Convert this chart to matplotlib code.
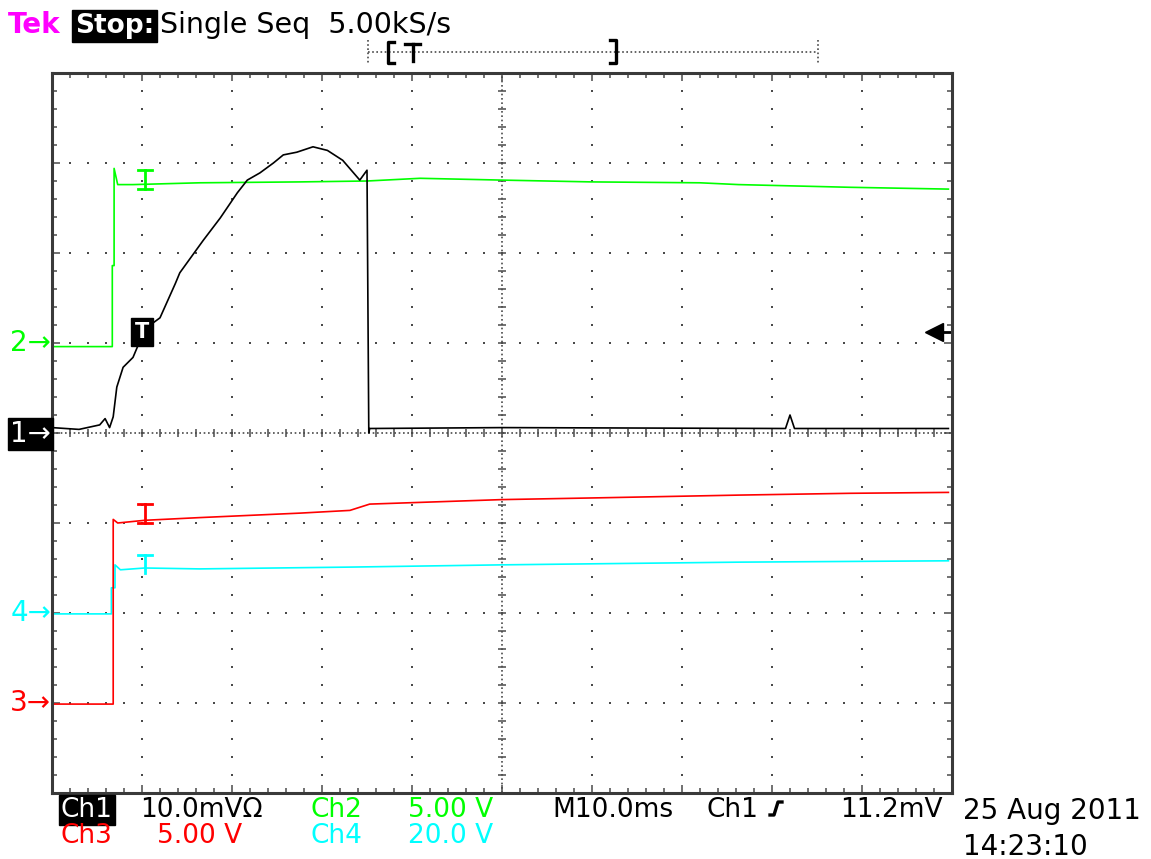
import matplotlib
matplotlib.use("Agg")
import matplotlib.pyplot as plt
from matplotlib.lines import Line2D
import numpy as np

W, H = 1151, 859

# scope settings: units per division and ground marker position (divisions)
ch1_scale, ch1_pos = 10.0, 0.0    # mV/div
ch2_scale, ch2_pos = 5.0, 1.0     # V/div
ch3_scale, ch3_pos = 5.0, -3.0    # V/div
ch4_scale, ch4_pos = 20.0, -2.0   # V/div
time_div = 10.0                   # ms/div
trig_level = 11.2                 # mV on ch1
trig_time = 10.0                  # ms

# ch1 (black, mV)
ch1_t = [0, 3.0, 5.3, 5.9, 6.4, 6.8, 7.2, 7.9, 9.0, 9.8, 10.1, 12.0, 13.7, 14.2,
         16.8, 18.7, 20.6, 21.7, 23.1, 24.6, 25.7, 27.2, 29.0, 30.6, 32.3, 34.2,
         35.0, 35.2, 35.3, 50.0, 81.5, 82.0, 82.5, 99.6]
ch1_v = [0.6, 0.4, 0.9, 1.6, 0.6, 1.8, 5.1, 7.3, 8.4, 10.3, 11.4, 12.8, 16.6, 17.8,
         21.4, 23.9, 26.7, 28.1, 28.9, 30.0, 30.9, 31.2, 31.8, 31.4, 30.3, 28.1,
         29.2, 0.0, 0.5, 0.6, 0.5, 2.0, 0.5, 0.5]

# ch2 (green, V)
ch2_t = [0, 6.7, 6.7, 6.9, 6.9, 7.3, 9.0, 16.4, 27.6, 35.0, 40.9, 50.0, 59.9, 72.0,
         76.3, 88.7, 99.6]
ch2_v = [-0.2, -0.2, 4.3, 4.3, 9.7, 8.8, 8.8, 8.9, 8.95, 9.0, 9.15, 9.05, 8.95, 8.9,
         8.8, 8.65, 8.55]

# ch3 (red, V)
ch3_t = [0, 6.8, 6.8, 7.3, 10.3, 16.4, 27.6, 33.1, 35.3, 50.0, 60.9, 76.3, 88.7, 99.6]
ch3_v = [-0.06, -0.06, 10.2, 10.0, 10.15, 10.3, 10.55, 10.7, 11.05, 11.3, 11.4,
         11.55, 11.65, 11.7]

# ch4 (cyan, V)
ch4_t = [0, 6.6, 6.6, 7.0, 7.0, 7.6, 10.3, 16.4, 33.1, 50.0, 76.3, 99.6]
ch4_v = [-0.2, -0.2, 5.6, 5.6, 10.7, 9.6, 10.0, 9.8, 10.2, 10.7, 11.3, 11.6]

green = "#00ff00"
red = "#ff0000"
cyan = "#00ffff"
magenta = "#ff00ff"
grid_c = "#4a4a4a"

fig = plt.figure(figsize=(W / 100, H / 100), dpi=100)
fig.patch.set_facecolor("white")
ax = fig.add_axes([52 / W, (H - 793) / H, 900 / W, 720 / H])
ax.set_xlim(0, 10 * time_div)
ax.set_ylim(-4, 4)

# graticule
minor_x = np.arange(0, 100.01, time_div / 5)
minor_y = np.arange(-4, 4.01, 0.2)
for gx in np.arange(time_div, 100, time_div):
    if gx == 50:
        continue
    ax.plot(np.full(minor_y.size, gx), minor_y, ls="none", marker="s", ms=1.6,
            color=grid_c, mew=0)
for gy in range(-3, 4):
    if gy == 0:
        continue
    ax.plot(minor_x, np.full(minor_x.size, gy), ls="none", marker="s", ms=1.6,
            color=grid_c, mew=0)
ax.plot([50, 50], [-4, 4], ls=(0, (1, 1.6)), lw=1.2, color=grid_c)
ax.plot([0, 100], [0, 0], ls=(0, (1, 1.6)), lw=1.2, color=grid_c)
ax.plot(np.full(minor_y.size, 50), minor_y, ls="none", marker="_", ms=6, mew=1.1, color=grid_c)
ax.plot(minor_x, np.zeros(minor_x.size), ls="none", marker="|", ms=6, mew=1.1, color=grid_c)

ax.set_xticks(np.arange(0, 100.01, time_div))
ax.set_xticks(minor_x, minor=True)
ax.set_yticks(np.arange(-4, 4.01, 1))
ax.set_yticks(minor_y, minor=True)
ax.tick_params(which="both", direction="in", top=True, right=True, bottom=True, left=True,
               labelbottom=False, labelleft=False, color=grid_c, width=1.1)
ax.tick_params(which="major", length=6)
ax.tick_params(which="minor", length=3.5)
for sp in ax.spines.values():
    sp.set_color("#3a3a3a")
    sp.set_linewidth(2.2)

# traces
lw = 1.2
ax.plot(ch4_t, ch4_pos + np.array(ch4_v) / ch4_scale, color=cyan, lw=lw)
ax.plot(ch3_t, ch3_pos + np.array(ch3_v) / ch3_scale, color=red, lw=lw)
ax.plot(ch2_t, ch2_pos + np.array(ch2_v) / ch2_scale, color=green, lw=lw)
ax.plot(ch1_t, ch1_pos + np.array(ch1_v) / ch1_scale, color="black", lw=lw)

# little I-beam markers on ch2/ch3/ch4
def ibeam(t, y0, y1, color, bottom=True):
    ax.plot([t, t], [y0, y1], color=color, lw=2)
    ax.plot([t - 0.8, t + 0.8], [y1, y1], color=color, lw=2)
    if bottom:
        ax.plot([t - 0.8, t + 0.8], [y0, y0], color=color, lw=2)

ibeam(10.3, 2.71, 2.92, green)
ibeam(10.3, -1.0, -0.79, red)
ibeam(10.3, -1.56, -1.36, cyan, bottom=False)

# trigger point box and trigger level arrow
trig_y = ch1_pos + trig_level / ch1_scale
ax.text(trig_time, trig_y, "T", color="white", fontsize=15, fontweight="bold",
        ha="center", va="center",
        bbox=dict(facecolor="black", edgecolor="black", boxstyle="square,pad=0.18"))
ax.plot([98.2, 100], [trig_y, trig_y], color="black", lw=2, clip_on=False)
ax.plot([98.0], [trig_y], marker="<", ms=13, color="black", clip_on=False)


def fline(xs, ys, **kw):
    fig.add_artist(Line2D([x / W for x in xs], [1 - y / H for y in ys],
                          transform=fig.transFigure, **kw))


def ftext(x, y, s, **kw):
    kw.setdefault("fontsize", 19)
    kw.setdefault("va", "baseline")
    fig.text(x / W, 1 - y / H, s, **kw)


# record bar at top
fline([368, 818], [52, 52], ls=(0, (1, 1.5)), lw=1.2, color=grid_c)
fline([368, 368], [40, 64], ls=(0, (1, 1.5)), lw=1.2, color=grid_c)
fline([818, 818], [40, 64], ls=(0, (1, 1.5)), lw=1.2, color=grid_c)
fline([394, 388, 388, 394], [42, 42, 63, 63], lw=2.4, color="black")
fline([610, 616, 616, 610], [40, 40, 63, 63], lw=2.4, color="black")
fline([405, 420], [44, 44], lw=2.4, color="black")
fline([412.5, 412.5], [44, 61], lw=2.4, color="black")

# header text
ftext(8, 33, "Tek", color=magenta, fontweight="bold", fontsize=20)
ftext(75, 33, "Stop:", color="white", fontweight="bold", fontsize=19,
      bbox=dict(facecolor="black", edgecolor="black", boxstyle="square,pad=0.12"))
ftext(160, 33, "Single Seq  5.00kS/s", color="black", fontsize=20.5)

# channel ground markers on the left
ftext(51, 343, "2\u2192", color=green, ha="right", va="center", fontsize=20)
ftext(51, 434, "1\u2192", color="white", ha="right", va="center", fontsize=20,
      bbox=dict(facecolor="black", edgecolor="black", boxstyle="square,pad=0.08"))
ftext(51, 613, "4\u2192", color=cyan, ha="right", va="center", fontsize=20)
ftext(51, 703, "3\u2192", color=red, ha="right", va="center", fontsize=20)

# bottom readouts
ftext(61, 817, "Ch1", color="white",
      bbox=dict(facecolor="black", edgecolor="black", boxstyle="square,pad=0.08"))
ftext(140, 817, "10.0mV\u03a9", color="black")
ftext(310, 817, "Ch2", color=green)
ftext(408, 817, "5.00 V", color=green)
ftext(552, 817, "M10.0ms", color="black")
ftext(707, 817, "Ch1", color="black")
fline([770, 774, 778, 782], [815, 815, 802, 802], lw=2.4, color="black")
ftext(840, 817, "11.2mV", color="black")
ftext(61, 843, "Ch3", color=red)
ftext(157, 843, "5.00 V", color=red)
ftext(310, 843, "Ch4", color=cyan)
ftext(408, 843, "20.0 V", color=cyan)
ftext(963, 819, "25 Aug 2011", color="black", fontsize=20)
ftext(963, 855, "14:23:10", color="black", fontsize=20)

fig.savefig("out.png", dpi=100)
